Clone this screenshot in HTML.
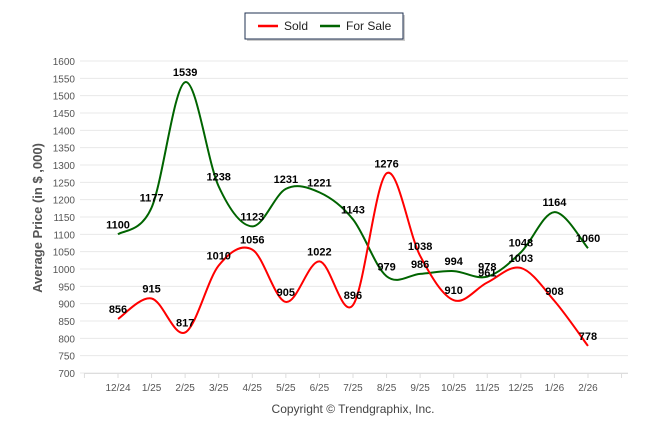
<!DOCTYPE html>
<html><head><meta charset="utf-8"><style>
body{margin:0;background:#fff;font-family:"Liberation Sans",sans-serif}
svg{display:block}
</style></head><body>
<svg id="c" width="646" height="434">
  <g>
    <rect x="247" y="15" width="158" height="26" fill="#999" opacity="0.5"/>
    <rect x="245" y="13" width="158" height="26" fill="#fff" stroke="#1f3050" stroke-width="1"/>
    <line x1="258" y1="26" x2="278" y2="26" stroke="#f00" stroke-width="2.5"/>
    <text x="284" y="30" font-size="12" fill="#222">Sold</text>
    <line x1="320" y1="26" x2="340" y2="26" stroke="#006400" stroke-width="2.5"/>
    <text x="346" y="30" font-size="12" fill="#222">For Sale</text>
  </g>
  <text transform="translate(42,218) rotate(-90)" text-anchor="middle" font-size="13" font-weight="bold" fill="#555">Average Price (in $ ,000)</text>
  <text x="353" y="413" text-anchor="middle" font-size="12" fill="#444">Copyright © Trendgraphix, Inc.</text>
  <g id="grid"></g><g id="lines"></g><g id="labels"></g>
</svg>
<script>
const categories=["12/24","1/25","2/25","3/25","4/25","5/25","6/25","7/25","8/25","9/25","10/25","11/25","12/25","1/26","2/26"];
const soldValues=[856,915,817,1010,1056,905,1022,896,1276,1038,910,961,1003,908,778];
const forSaleValues=[1100,1177,1539,1238,1123,1231,1221,1143,979,986,994,978,1048,1164,1060];
const yTicks=[700,750,800,850,900,950,1000,1050,1100,1150,1200,1250,1300,1350,1400,1450,1500,1550,1600];
const NS="http://www.w3.org/2000/svg";
const x0=118,step=33.57,yMin=700,yMax=1600,yTop=61,yBot=373;
const X=i=>x0+i*step;
const Y=v=>yBot-(v-yMin)/(yMax-yMin)*(yBot-yTop);
function mk(t,a,p){const e=document.createElementNS(NS,t);for(const k in a)e.setAttribute(k,a[k]);p.appendChild(e);return e;}
const grid=document.getElementById('grid'),lines=document.getElementById('lines'),labels=document.getElementById('labels');
yTicks.forEach(v=>{
  const l=mk('line',{x1:80,x2:628,y1:Y(v),y2:Y(v),stroke:'#e8e8e8','stroke-width':1},grid);
  
  
  const t=mk('text',{x:75,y:Y(v)+4,'text-anchor':'end','font-size':10,fill:'#555'},grid);
  t.textContent=v;
  
  
});
mk('line',{x1:84,x2:628,y1:yBot+0.5,y2:yBot+0.5,stroke:'#ddd'},grid);
for(let i=-1;i<=15;i++){mk('line',{x1:X(i)-step/2+step/2,x2:X(i),y1:yBot,y2:yBot+5,stroke:'#ddd'},grid);}
categories.forEach((c,i)=>{
  const t=mk('text',{x:X(i),y:yBot+18,'text-anchor':'middle','font-size':10,fill:'#555'},grid);
  t.textContent=c;
  
  
});
function spline(vals){
  const p=vals.map((v,i)=>[X(i),Y(v)]);let d='M'+p[0][0]+','+p[0][1];
  const s=0.5;
  for(let i=0;i<p.length-1;i++){
    const a=p[i-1]||p[i],b=p[i],c=p[i+1],e=p[i+2]||c;
    const c1=[b[0]+(c[0]-a[0])/6*s*2,b[1]+(c[1]-a[1])/6*s*2];
    const c2=[c[0]-(e[0]-b[0])/6*s*2,c[1]-(e[1]-b[1])/6*s*2];
    d+=` C${c1[0]},${c1[1]} ${c2[0]},${c2[1]} ${c[0]},${c[1]}`;
  }
  return d;
}
[[forSaleValues,'#006400','for-sale-line'],[soldValues,'#f00','sold-line']].forEach(([vals,col,name])=>{
  const p=mk('path',{d:spline(vals),fill:'none',stroke:col,'stroke-width':2},lines);
  
  
  vals.forEach((v,i)=>{
    const t=mk('text',{x:X(i),y:Y(v)-6,'text-anchor':'middle','font-size':11,'font-weight':'bold',fill:'#000'},labels);
    t.textContent=v;
    
    
  });
});
</script>
</body></html>
